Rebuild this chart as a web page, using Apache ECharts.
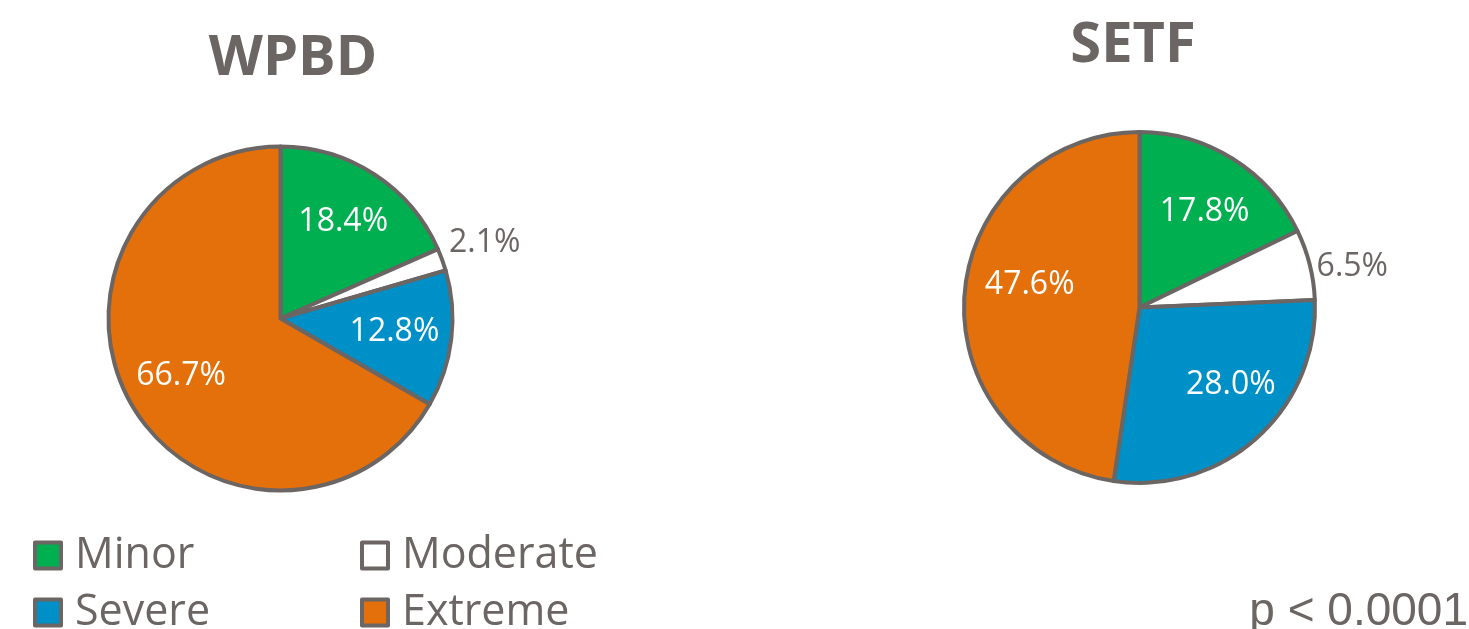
<!DOCTYPE html>
<html>
<head>
<meta charset="utf-8">
<script src="https://cdn.jsdelivr.net/npm/echarts@6/dist/echarts.min.js"></script>
<style>
  html, body { margin: 0; padding: 0; background: #fff; }
  #chart { width: 1469px; height: 629px; }
</style>
</head>
<body>
<div id="chart"></div>
<script>
var categories = ['Minor', 'Moderate', 'Severe', 'Extreme'];
var wpbdValues = [18.4, 2.1, 12.8, 66.7];
var setfValues = [17.8, 6.5, 28.0, 47.6];
var panelTitles = ['WPBD', 'SETF'];
var pNote = 'p < 0.0001';

var sliceColors = ['#00b050', '#ffffff', '#0090c8', '#e4700b'];
var edge = '#6b6563';
var textGray = '#6b6563';
var font = '"Open Sans", "Noto Sans", sans-serif';

var myChart = echarts.init(document.getElementById('chart'));

function pieData(values) {
    return values.map(function (v, i) {
        return { name: categories[i], value: v, itemStyle: { color: sliceColors[i] } };
    });
}

// transparent ring on top of each pie, only used to put the labels at ~0.65 R like Excel
function labelData(values) {
    return values.map(function (v, i) {
        var d = { name: categories[i], value: v };
        if (i === 1) {
            d.label = { position: 'outside', color: textGray };
            d.labelLine = { show: false, length: 2, length2: 0 };
        }
        return d;
    });
}

function pieSeries(values, center, r) {
    return {
        type: 'pie',
        center: center,
        radius: r,
        startAngle: 90,
        clockwise: true,
        silent: true,
        label: { show: false },
        labelLine: { show: false },
        itemStyle: { borderColor: edge, borderWidth: 4 },
        data: pieData(values)
    };
}

// nudges: small offsets per label (Excel does not put them exactly on the mid angle)
function labelSeries(values, center, r, nudges) {
    return {
        type: 'pie',
        center: center,
        radius: [r * 0.3, r],
        startAngle: 90,
        clockwise: true,
        silent: true,
        avoidLabelOverlap: false,
        itemStyle: { color: 'transparent', borderWidth: 0 },
        label: {
            show: true,
            position: 'inside',
            color: '#ffffff',
            fontFamily: font,
            fontSize: 32,
            formatter: function (p) { return p.value.toFixed(1) + '%'; }
        },
        labelLayout: function (p) {
            var n = nudges[p.dataIndex];
            return { dx: n[0], dy: n[1] };
        },
        data: labelData(values)
    };
}

var legendItems = categories.map(function (c, i) {
    return { name: c, itemStyle: { color: sliceColors[i], borderColor: edge, borderWidth: 4 } };
});

function legendBox(item, left, top) {
    return {
        left: left,
        top: top,
        itemWidth: 26,
        itemHeight: 26,
        icon: 'rect',
        selectedMode: false,
        itemStyle: { borderColor: edge, borderWidth: 4 },
        textStyle: { fontFamily: font, fontSize: 43, color: textGray, padding: [0, 0, 0, 9] },
        data: [item]
    };
}

option = {
    backgroundColor: '#ffffff',
    animation: false,
    title: [{
        text: panelTitles[0],
        left: 288,
        textAlign: 'center',
        top: 26,
        textStyle: { fontFamily: font, fontSize: 56, fontWeight: 'bold', color: textGray }
    }, {
        text: panelTitles[1],
        left: 1128,
        textAlign: 'center',
        top: 13,
        textStyle: { fontFamily: font, fontSize: 56, fontWeight: 'bold', color: textGray }
    }, {
        text: pNote,
        right: -4,
        top: 584,
        textStyle: { fontFamily: '"Liberation Sans", Arial, sans-serif', fontSize: 46, fontWeight: 'normal', color: textGray }
    }],
    legend: [
        legendBox(legendItems[0], 28, 529),
        legendBox(legendItems[1], 355, 529),
        legendBox(legendItems[2], 28, 586),
        legendBox(legendItems[3], 355, 586)
    ],
    series: [
        pieSeries(wpbdValues, [280.5, 318.5], 172),
        labelSeries(wpbdValues, [280.5, 318.5], 172, [[0, 0], [0, -16], [0, 0], [0, 0]]),
        pieSeries(setfValues, [1139.5, 307.5], 175.5),
        labelSeries(setfValues, [1139.5, 307.5], 175.5, [[3, 4], [0, 3], [13, -10], [7, -14]])
    ]
};

myChart.setOption(option);
</script>
</body>
</html>
